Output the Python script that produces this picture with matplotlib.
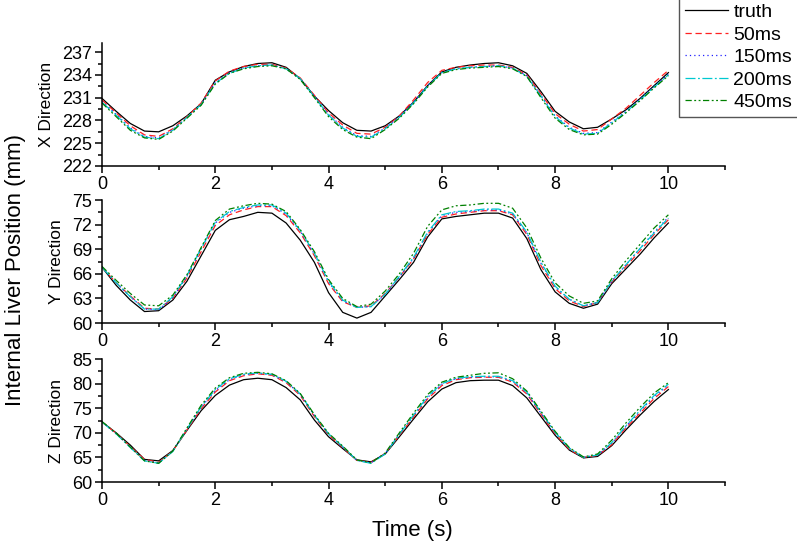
import numpy as np
import matplotlib
matplotlib.use('Agg')
import matplotlib.pyplot as plt
from matplotlib.ticker import MultipleLocator

plt.rcParams['font.family'] = ['Liberation Sans', 'DejaVu Sans']

# time axis, 0.25 s steps
time = np.arange(41) * 0.25

series_names = ['truth', '50ms', '150ms', '200ms', '450ms']

x_truth = [230.9, 229.2, 227.6, 226.6, 226.5, 227.3, 228.6, 230.2, 233.3, 234.4,
           235.1, 235.5, 235.6, 235.0, 233.5, 231.2, 229.3, 227.7, 226.7, 226.6,
           227.3, 228.6, 230.4, 232.6, 234.4, 235.0, 235.3, 235.5, 235.6, 235.2,
           234.2, 231.8, 229.2, 227.8, 226.9, 227.1, 228.2, 229.4, 230.9, 232.6, 234.3]
x_50 = [230.7, 229.0, 227.3, 226.1, 225.9, 226.9, 228.5, 230.3, 233.2, 234.5,
        235.1, 235.4, 235.4, 234.9, 233.6, 231.3, 229.0, 227.4, 226.3, 226.2,
        227.1, 228.6, 230.7, 233.0, 234.6, 235.0, 235.2, 235.3, 235.3, 235.0,
        234.0, 231.5, 228.9, 227.5, 226.6, 226.8, 228.2, 229.6, 231.3, 233.0, 234.6]
x_150 = [230.5, 228.8, 227.0, 225.9, 225.7, 226.8, 228.4, 230.1, 233.0, 234.3,
         234.9, 235.2, 235.3, 234.8, 233.5, 231.2, 228.8, 227.1, 226.0, 225.9,
         227.0, 228.5, 230.4, 232.6, 234.3, 234.8, 235.0, 235.1, 235.2, 234.9,
         233.9, 231.3, 228.6, 227.1, 226.3, 226.4, 227.8, 229.2, 230.8, 232.5, 234.1]
x_200 = [230.4, 228.7, 226.9, 225.8, 225.6, 226.7, 228.4, 230.1, 232.9, 234.2,
         234.9, 235.2, 235.3, 234.8, 233.5, 231.1, 228.7, 227.0, 225.9, 225.8,
         226.9, 228.4, 230.3, 232.5, 234.3, 234.8, 235.0, 235.1, 235.2, 234.9,
         233.8, 231.2, 228.5, 227.0, 226.2, 226.3, 227.7, 229.1, 230.7, 232.4, 234.0]
x_450 = [230.3, 228.5, 226.7, 225.7, 225.5, 226.6, 228.3, 230.0, 232.8, 234.2,
         234.8, 235.1, 235.2, 234.8, 233.4, 231.0, 228.5, 226.8, 225.8, 225.6,
         226.8, 228.3, 230.2, 232.4, 234.2, 234.7, 234.9, 235.0, 235.1, 234.8,
         233.8, 231.0, 228.3, 226.8, 226.1, 226.2, 227.5, 229.0, 230.6, 232.3, 233.9]

y_truth = [66.8, 64.6, 62.8, 61.4, 61.5, 62.8, 65.1, 68.2, 71.3, 72.6,
           73.0, 73.5, 73.4, 72.2, 70.1, 67.4, 63.7, 61.3, 60.6, 61.3,
           63.3, 65.3, 67.4, 70.5, 72.7, 73.0, 73.2, 73.4, 73.4, 72.8,
           70.3, 66.5, 63.8, 62.4, 61.8, 62.3, 64.8, 66.6, 68.4, 70.4, 72.2]
y_50 = [66.8, 64.9, 63.3, 61.8, 61.7, 63.0, 65.5, 68.7, 71.9, 73.2,
        73.8, 74.2, 74.2, 73.1, 71.0, 68.2, 64.8, 62.6, 61.9, 62.1,
        63.6, 65.6, 67.8, 70.8, 72.9, 73.3, 73.5, 73.7, 73.7, 73.2,
        70.8, 67.0, 64.2, 62.7, 62.0, 62.5, 65.0, 66.9, 68.8, 70.8, 72.6]
y_150 = [66.8, 64.9, 63.2, 61.7, 61.6, 63.1, 65.7, 69.0, 72.2, 73.5,
         74.0, 74.3, 74.3, 73.3, 71.2, 68.4, 65.0, 62.7, 61.9, 62.0,
         63.5, 65.6, 67.9, 71.0, 73.1, 73.5, 73.6, 73.8, 73.8, 73.3,
         71.0, 67.3, 64.4, 62.9, 62.1, 62.5, 65.1, 67.1, 69.1, 71.1, 72.9]
y_200 = [66.8, 64.9, 63.2, 61.7, 61.7, 63.2, 65.8, 69.1, 72.3, 73.6,
         74.1, 74.4, 74.4, 73.4, 71.3, 68.5, 65.1, 62.8, 61.9, 62.0,
         63.5, 65.7, 68.0, 71.1, 73.2, 73.6, 73.7, 73.9, 73.9, 73.4,
         71.1, 67.4, 64.5, 62.9, 62.1, 62.5, 65.1, 67.1, 69.1, 71.0, 72.8]
y_450 = [66.9, 65.2, 63.6, 62.2, 62.1, 63.4, 65.9, 69.2, 72.5, 73.9,
         74.3, 74.6, 74.5, 73.6, 71.4, 68.7, 65.3, 63.0, 62.0, 62.3,
         63.9, 66.0, 68.5, 71.8, 73.8, 74.3, 74.4, 74.6, 74.6, 74.0,
         71.6, 67.9, 64.9, 63.3, 62.4, 62.7, 65.4, 67.6, 69.6, 71.6, 73.2]

z_truth = [72.2, 70.0, 67.5, 64.6, 64.3, 66.4, 70.5, 74.5, 77.6, 79.7,
           80.8, 81.1, 80.8, 79.2, 76.7, 72.6, 69.2, 66.8, 64.5, 64.1,
           65.7, 69.2, 72.8, 76.3, 78.9, 80.2, 80.6, 80.7, 80.7, 79.6,
           77.1, 73.3, 69.5, 66.5, 64.9, 65.2, 67.4, 70.6, 73.6, 76.4, 78.8]
z_50 = [72.2, 69.9, 67.2, 64.6, 64.0, 66.3, 70.6, 74.9, 78.3, 80.6,
        81.6, 82.0, 81.7, 80.2, 77.6, 73.3, 69.6, 67.0, 64.4, 64.0,
        65.8, 69.5, 73.2, 76.9, 79.6, 80.8, 81.2, 81.3, 81.3, 80.3,
        77.9, 73.8, 69.8, 66.6, 65.0, 65.4, 67.6, 71.0, 74.0, 77.0, 79.4]
z_150 = [72.2, 69.8, 67.1, 64.4, 63.9, 66.3, 70.8, 75.2, 78.6, 80.8,
         81.8, 82.1, 81.8, 80.4, 77.8, 73.5, 69.7, 67.1, 64.4, 63.9,
         65.8, 69.7, 73.5, 77.2, 79.9, 81.0, 81.3, 81.4, 81.4, 80.5,
         78.1, 74.0, 70.0, 66.8, 65.0, 65.5, 67.9, 71.3, 74.4, 77.4, 79.7]
z_200 = [72.2, 69.8, 67.0, 64.3, 63.8, 66.2, 70.8, 75.3, 78.8, 81.0,
         81.9, 82.2, 81.9, 80.5, 77.9, 73.6, 69.8, 67.2, 64.4, 63.8,
         65.7, 69.7, 73.6, 77.4, 80.0, 81.1, 81.4, 81.5, 81.5, 80.6,
         78.3, 74.2, 70.1, 66.9, 65.0, 65.5, 68.0, 71.4, 74.6, 77.6, 79.9]
z_450 = [72.3, 69.9, 67.1, 64.3, 63.8, 66.3, 71.0, 75.6, 79.1, 81.2,
         82.1, 82.3, 82.0, 80.6, 78.0, 73.7, 69.9, 67.3, 64.5, 63.9,
         65.9, 70.0, 74.0, 77.8, 80.3, 81.3, 81.7, 82.1, 82.2, 81.0,
         78.5, 74.4, 70.3, 67.0, 65.1, 65.7, 68.5, 72.0, 75.2, 78.1, 80.2]

panels = [
    ('X Direction', [x_truth, x_50, x_150, x_200, x_450], (222, 238.2), 3),
    ('Y Direction', [y_truth, y_50, y_150, y_200, y_450], (60, 75), 3),
    ('Z Direction', [z_truth, z_50, z_150, z_200, z_450], (60, 85), 5),
]

colors = ['black', '#ff2020', '#2020ff', '#00c8d0', '#008000']
dashes = [None, (5, 3), (1, 2.5), (8, 2, 1.5, 2), (5, 2, 1.5, 2, 1.5, 2)]

fig = plt.figure(figsize=(7.97, 5.5), dpi=100)

# axes boxes in figure fraction
bottoms = [0.6982, 0.4127, 0.1236]
heights = [0.2236, 0.2236, 0.2236]

lines = []
for k, (label, data, ylim, ystep) in enumerate(panels):
    ax = fig.add_axes([0.128, bottoms[k], 0.7817, heights[k]])
    for name, vals, c, d in zip(series_names, data, colors, dashes):
        if d is None:
            ln, = ax.plot(time, vals, color=c, lw=0.9, label=name)
        else:
            ln, = ax.plot(time, vals, color=c, lw=0.9, dashes=d, label=name)
        if k == 0:
            lines.append(ln)
    ax.set_xlim(0, 11)
    ax.set_ylim(*ylim)
    ax.xaxis.set_major_locator(MultipleLocator(2))
    ax.xaxis.set_minor_locator(MultipleLocator(1))
    ax.yaxis.set_major_locator(MultipleLocator(ystep))
    ax.yaxis.set_minor_locator(MultipleLocator(ystep / 2))
    ax.set_xticks([0, 2, 4, 6, 8, 10])
    ax.spines['top'].set_visible(False)
    ax.spines['right'].set_visible(False)
    for s in ['left', 'bottom']:
        ax.spines[s].set_linewidth(1.1)
    ax.tick_params(which='major', length=5, width=1.1, labelsize=13, pad=2)
    ax.tick_params(which='minor', length=3, width=1.1)
    ax.set_ylabel(label, fontsize=12.5, labelpad=6)

fig.text(0.019, 0.51, 'Internal Liver Position (mm)', rotation=90,
         fontsize=16, ha='center', va='center')
fig.text(0.518, 0.036, 'Time (s)', fontsize=16, ha='center', va='center')

fig.legend(lines, series_names, loc='upper left', bbox_to_anchor=(0.852, 1.004),
           borderaxespad=0, fontsize=14, frameon=True, fancybox=False,
           edgecolor='#555555', framealpha=1, handlelength=2.2,
           labelspacing=0.25, handletextpad=0.3, borderpad=0.3)

plt.savefig('out.png', dpi=100)
